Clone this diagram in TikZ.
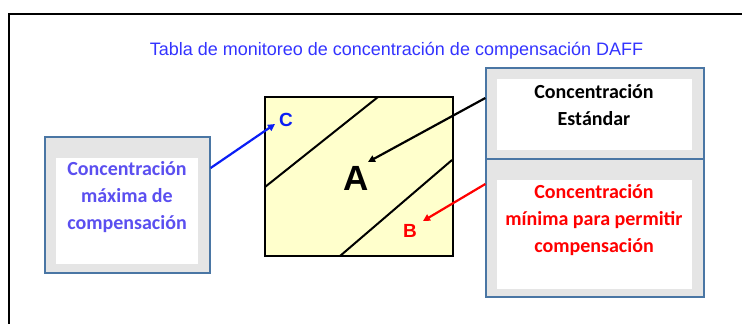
\documentclass[tikz,border=0pt]{standalone}
\usepackage{fontspec}
\setmainfont{Liberation Sans}
\newfontfamily\calib{Carlito}
\usetikzlibrary{arrows.meta}
\definecolor{boxedge}{HTML}{4A76A4}
\definecolor{boxgray}{HTML}{E5E5E5}
\definecolor{sqfill}{HTML}{FFFFCC}
\definecolor{titleblue}{HTML}{3333FF}
\definecolor{lblue}{HTML}{5B4FF0}
\definecolor{arrblue}{HTML}{0A1EF5}
\definecolor{lred}{HTML}{FF0000}
\tikzset{
  outerbox/.style={draw=boxedge, line width=1.3pt, fill=boxgray, inner sep=0pt},
  innerbox/.style={fill=white, inner sep=0pt},
  boxtext/.style={font=\calib\bfseries\fontsize{20}{27}\selectfont, align=center},
  letter/.style={font=\bfseries\fontsize{19}{19}\selectfont},
  arr/.style={line width=2.2pt, -{Triangle[length=7pt,width=7pt]}}
}
\begin{document}
\begin{tikzpicture}[x=1pt,y=-1pt]
\useasboundingbox (0,0) rectangle (742,324);
% frame
\draw[line width=2.2pt] (9,340) -- (9,14) -- (760,14);
% title
\node[text=titleblue, font=\fontsize{18}{20}\selectfont] (title) at (396.5,51) {Tabla de monitoreo de concentración de compensación DAFF};
% square
\node[draw=black, line width=2.2pt, fill=sqfill, minimum width=188pt, minimum height=159pt, inner sep=0pt] (sq) at (359,176.5) {};
\draw[line width=2pt] (265,187) -- (378,97);
\draw[line width=2pt] (340,256) -- (452,160);
\node[font=\bfseries\fontsize{35}{35}\selectfont] (A) at (356,178) {A};
\node[letter, text=arrblue] (C) at (286,120) {C};
\node[letter, text=lred] (B) at (410,231) {B};
% left box
\node[outerbox, minimum width=165pt, minimum height=136pt] (lbox) at (127.5,205) {};
\node[innerbox, minimum width=142pt, minimum height=106pt] (lin) at (127,211) {};
\node[boxtext, text=lblue] (ltext) at (127,197.5) {Concentración\\máxima de\\compensación};
% right boxes
\node[outerbox, minimum width=218pt, minimum height=91pt] (rtop) at (595,113.5) {};
\node[innerbox, minimum width=195pt, minimum height=71pt] (rtin) at (594.5,114.5) {};
\node[boxtext, text=black] (rttext) at (594,105.5) {Concentración\\Estándar};
\node[outerbox, minimum width=218pt, minimum height=138pt] (rbot) at (595,228) {};
\node[innerbox, minimum width=195pt, minimum height=109pt] (rbin) at (594.5,234.5) {};
\node[boxtext, text=lred] (rbtext) at (594,220) {Concentración\\mínima para permitir\\compensación};
% arrows
\coordinate (ctip) at (275,124);
\coordinate (atip) at (368,162);
\coordinate (btip) at (423,221);
\draw[arr, draw=arrblue] (lbox.east |- 0,168) -- (ctip);
\draw[arr, draw=black] (rtop.west |- 0,98) -- (atip);
\draw[arr, draw=lred] (rbot.west |- 0,184) -- (btip);
\end{tikzpicture}
\end{document}
